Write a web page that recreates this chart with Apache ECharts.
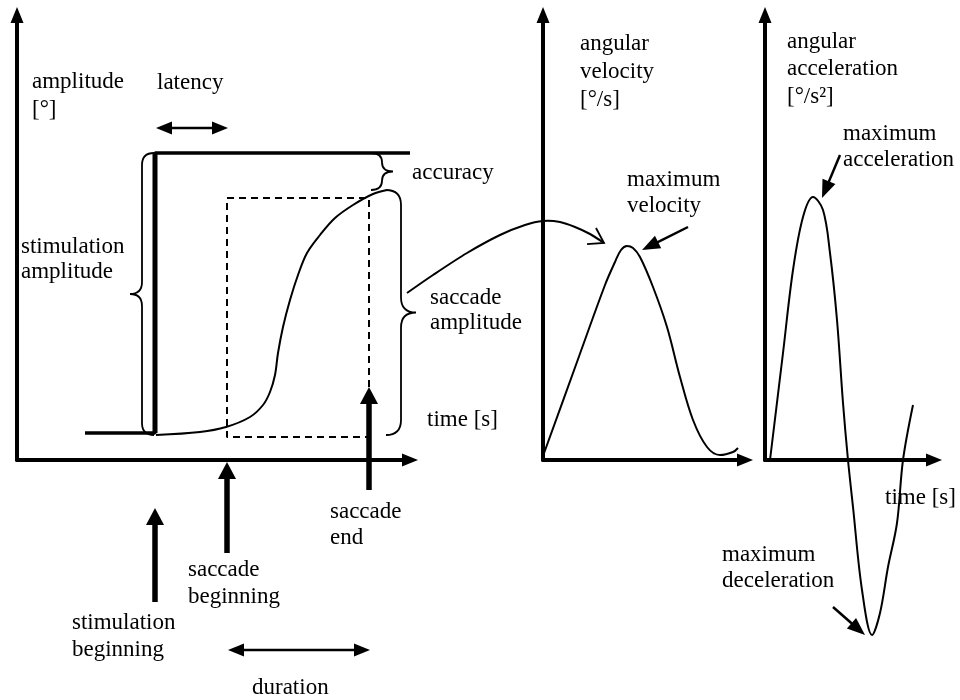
<!DOCTYPE html>
<html>
<head>
<meta charset="utf-8">
<script src="https://cdn.jsdelivr.net/npm/echarts@6/dist/echarts.min.js"></script>
<style>
html,body{margin:0;padding:0;background:#fff;}
#chart{width:960px;height:700px;}
</style>
</head>
<body>
<div id="chart"></div>
<script>
// ---------- Panel 1: amplitude [°] vs time (schematic units) ----------
const stimulusStep = [[68, 27], [138, 27], [138, 307], [393, 307]];
const saccadePosition = [[139, 25], [183, 28], [209, 33], [233, 43], [246, 55], [253, 68], [258, 85], [261, 107],
  [266, 133], [273, 160], [281, 185], [290, 207], [303, 225], [318, 242], [336, 255], [356, 266], [370, 270]];
const saccadeStart = 210;
const saccadeEnd = 352;
const saccadeLow = 23;
const saccadeHigh = 262;
// event arrows [fromX, fromY, toX, toY]: stimulation beginning, saccade beginning, saccade end
const eventArrows = [[138, -142, 138, -48], [210, -93, 210, -2], [352, -30, 352, 73]];
// interval arrows: latency, duration
const intervalArrows = [[139, 332, 211, 332], [211, -190, 353, -190]];
// braces [x, low, high]
const leftBraces = [[137, 25, 307]];                  // stimulation amplitude
const accuracyBrace = [[354, 270, 307]];              // accuracy
const amplitudeBrace = [[369, 25, 270]];              // saccade amplitude
// curved arrow from saccade amplitude to maximum velocity
const transferCurve = [[390, 167], [416, 185], [450, 207], [483, 225], [508, 235], [526, 239], [543, 238], [558, 233], [573, 226], [587, 217]];

// ---------- Panel 2: angular velocity [°/s] ----------
const velocityCurve = [[0, 4], [34, 98], [62, 175], [72, 198], [78, 210], [84, 214], [90, 212], [97, 203], [110, 173],
  [124, 133], [137, 83], [150, 40], [164, 13], [177, 5], [190, 8], [195, 12]];
const velocityPeakArrow = [[145, 233, 99, 210]];

// ---------- Panel 3: angular acceleration [°/s²] ----------
const accelerationCurve = [[5, 0], [18, 107], [28, 190], [38, 243], [48, 263], [58, 250], [65, 207], [72, 140], [78, 57],
  [83, 0], [88, -47], [97, -130], [107, -175], [115, -153], [123, -107], [132, -63], [138, 0], [148, 55]];
const accelerationArrows = [[75, 305, 57, 262], [68, -147, 100, -175]];

// ---------- texts ----------
const texts = [
  ['amplitude\n[°]', 32, 68, 28],
  ['latency', 157, 70, 26],
  ['stimulation\namplitude', 21, 234, 25],
  ['accuracy', 412, 160, 26],
  ['saccade\namplitude', 430, 285, 25],
  ['time [s]', 427, 407, 26],
  ['angular\nvelocity\n[°/s]', 580, 30, 28],
  ['maximum\nvelocity', 627, 167, 26],
  ['angular\nacceleration\n[°/s²]', 787, 28, 27.5],
  ['maximum\nacceleration', 843, 121, 26],
  ['time [s]', 885, 485, 26],
  ['maximum\ndeceleration', 722, 542, 26],
  ['saccade\nend', 330, 499, 26],
  ['saccade\nbeginning', 188, 556, 27],
  ['stimulation\nbeginning', 72, 609, 27],
  ['duration', 252, 675, 26]
];

const FONT = '"Liberation Serif", "Times New Roman", serif';
const BLACK = '#000';

function axis(gridIndex, max) {
  return {
    type: 'value', gridIndex, min: 0, max,
    axisLine: { show: true, onZero: false, symbol: ['none', 'triangle'], symbolSize: [13, 16],
      lineStyle: { color: BLACK, width: 4 } },
    axisTick: { show: false }, axisLabel: { show: false }, splitLine: { show: false }
  };
}

function curve(idx, data, width, extra) {
  return Object.assign({
    type: 'line', xAxisIndex: idx, yAxisIndex: idx, data, symbol: 'none', clip: false, silent: true,
    lineStyle: { color: BLACK, width: width }, animation: false
  }, extra || {});
}

// smooth curve drawn through the axis scales, not limited to the axis range
function freeCurve(idx, data, width, smooth) {
  return {
    type: 'custom', xAxisIndex: idx, yAxisIndex: idx, clip: false, silent: true, animation: false,
    data, encode: { x: 0, y: 1 },
    renderItem(params, api) {
      if (params.dataIndex !== 0) return { type: 'group', children: [] };
      const pts = data.map(p => api.coord(p));
      return { type: 'polyline', shape: { points: pts, smooth: smooth },
        style: { fill: 'none', stroke: BLACK, lineWidth: width } };
    }
  };
}

function arrows(idx, data, o) {
  return {
    type: 'custom', xAxisIndex: idx, yAxisIndex: idx, clip: false, silent: true, animation: false,
    data, encode: { x: [0, 2], y: [1, 3] },
    renderItem(params, api) {
      const a = api.coord([api.value(0), api.value(1)]);
      const b = api.coord([api.value(2), api.value(3)]);
      const dx = b[0] - a[0], dy = b[1] - a[1], L = Math.hypot(dx, dy);
      const ux = dx / L, uy = dy / L, nx = -uy, ny = ux;
      const head = (t, sx, sy) => ({
        type: 'polygon',
        shape: { points: [t,
          [t[0] - sx * o.len + nx * o.w / 2, t[1] - sy * o.len + ny * o.w / 2],
          [t[0] - sx * o.len - nx * o.w / 2, t[1] - sy * o.len - ny * o.w / 2]] },
        style: { fill: BLACK }
      });
      const s0 = o.double ? [a[0] + ux * o.len * 0.7, a[1] + uy * o.len * 0.7] : a;
      const s1 = [b[0] - ux * o.len * 0.7, b[1] - uy * o.len * 0.7];
      const children = [{ type: 'line', shape: { x1: s0[0], y1: s0[1], x2: s1[0], y2: s1[1] },
        style: { stroke: BLACK, lineWidth: o.shaft } }, head(b, ux, uy)];
      if (o.double) children.push(head(a, -ux, -uy));
      return { type: 'group', children };
    }
  };
}

function braces(data, dir, w) {
  return {
    type: 'custom', xAxisIndex: 0, yAxisIndex: 0, clip: false, silent: true, animation: false,
    data, encode: { x: 0, y: [1, 2] },
    renderItem(params, api) {
      const top = api.coord([api.value(0), api.value(2)]);
      const bot = api.coord([api.value(0), api.value(1)]);
      const x0 = top[0], yT = top[1], yB = bot[1];
      const xs = x0 + dir * w / 2, xt = x0 + dir * w, ym = (yT + yB) / 2;
      const r = Math.min(w / 2, (yB - yT) / 4);
      const d = 'M' + x0 + ' ' + yT +
        ' Q' + xs + ' ' + yT + ' ' + xs + ' ' + (yT + r) +
        ' L' + xs + ' ' + (ym - r) +
        ' Q' + xs + ' ' + ym + ' ' + xt + ' ' + ym +
        ' Q' + xs + ' ' + ym + ' ' + xs + ' ' + (ym + r) +
        ' L' + xs + ' ' + (yB - r) +
        ' Q' + xs + ' ' + yB + ' ' + x0 + ' ' + yB;
      return { type: 'path', shape: { pathData: d }, style: { fill: 'none', stroke: BLACK, lineWidth: 1.8 } };
    }
  };
}

function openHead(idx, data) {
  return {
    type: 'custom', xAxisIndex: idx, yAxisIndex: idx, clip: false, silent: true, animation: false,
    data, encode: { x: [0, 2], y: [1, 3] },
    renderItem(params, api) {
      const a = api.coord([api.value(0), api.value(1)]);
      const b = api.coord([api.value(2), api.value(3)]);
      const ang = Math.atan2(b[1] - a[1], b[0] - a[0]);
      const len = 17, half = 33 * Math.PI / 180;
      const p1 = [b[0] - len * Math.cos(ang - half), b[1] - len * Math.sin(ang - half)];
      const p2 = [b[0] - len * Math.cos(ang + half), b[1] - len * Math.sin(ang + half)];
      return { type: 'polyline', shape: { points: [p1, b, p2] }, style: { fill: 'none', stroke: BLACK, lineWidth: 1.8 } };
    }
  };
}

const saccadeWindow = [[saccadeEnd, eventArrows[2][3]], [saccadeEnd, saccadeHigh], [saccadeStart, saccadeHigh],
  [saccadeStart, saccadeLow], [saccadeEnd, saccadeLow]];
const n = transferCurve.length;
const transferHead = [[transferCurve[n - 3][0], transferCurve[n - 3][1], transferCurve[n - 1][0], transferCurve[n - 1][1]]];

const chart = echarts.init(document.getElementById('chart'), null, { renderer: 'canvas' });
chart.setOption({
  backgroundColor: '#fff',
  animation: false,
  grid: [
    { left: 17, top: 15, width: 393, height: 445 },
    { left: 543, top: 15, width: 202, height: 445 },
    { left: 765, top: 15, width: 169, height: 445 }
  ],
  xAxis: [axis(0, 393), axis(1, 202), axis(2, 169)],
  yAxis: [axis(0, 445), axis(1, 445), axis(2, 445)],
  series: [
    curve(0, stimulusStep, 3.5),
    curve(0, stimulusStep.slice(1, 3), 5),
    curve(0, saccadePosition, 2, { smooth: 0.35 }),
    curve(0, saccadeWindow, 2, { lineStyle: { color: BLACK, width: 2, type: [7, 5] } }),
    freeCurve(0, transferCurve, 2, 0.3),
    openHead(0, transferHead),
    braces(leftBraces, -1, 24),
    braces(accuracyBrace, 1, 22),
    braces(amplitudeBrace, 1, 30),
    arrows(0, eventArrows, { shaft: 5.5, len: 17, w: 18 }),
    arrows(0, intervalArrows, { shaft: 2.5, len: 16, w: 13, double: true }),
    curve(1, velocityCurve, 2, { smooth: 0.35 }),
    arrows(1, velocityPeakArrow, { shaft: 2.5, len: 18, w: 14 }),
    curve(2, accelerationCurve, 2, { smooth: 0.35 }),
    arrows(2, accelerationArrows, { shaft: 2.5, len: 18, w: 14 })
  ],
  graphic: texts.map(t => ({
    type: 'text', x: t[1], y: t[2], silent: true, z: 100,
    style: { text: t[0], fontFamily: FONT, fontSize: 23, lineHeight: t[3], fill: BLACK, align: 'left', verticalAlign: 'top' }
  }))
});
</script>
</body>
</html>
